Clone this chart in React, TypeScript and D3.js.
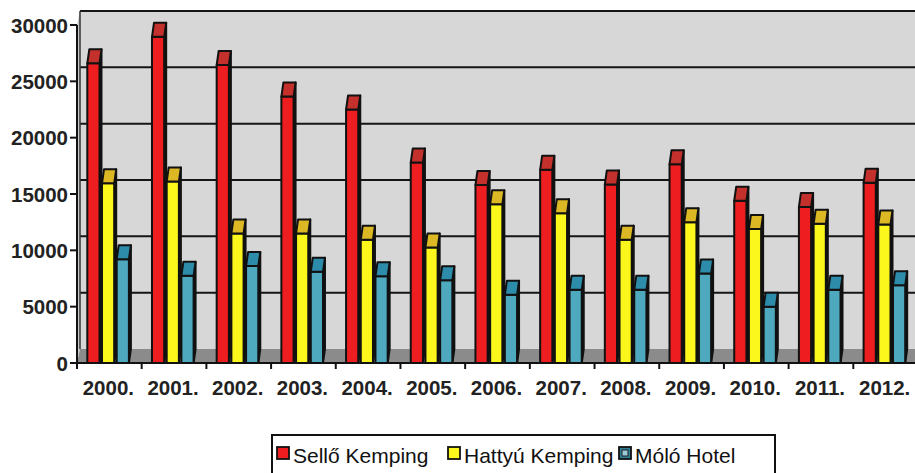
import React from "react";
import * as d3 from "d3";

const years = ["2000.", "2001.", "2002.", "2003.", "2004.", "2005.", "2006.", "2007.", "2008.", "2009.", "2010.", "2011.", "2012."];
const seriesNames = ["Sellő Kemping", "Hattyú Kemping", "Móló Hotel"];
const selloValues = [26600, 28950, 26450, 23650, 22500, 17800, 15800, 17150, 15850, 17650, 14400, 13850, 16000];
const hattyuValues = [15950, 16100, 11500, 11500, 10950, 10250, 14100, 13300, 10950, 12500, 11900, 12350, 12300];
const moloValues = [9200, 7750, 8600, 8100, 7700, 7350, 6050, 6500, 6500, 7950, 5000, 6500, 6900];
const yTicks = [0, 5000, 10000, 15000, 20000, 25000, 30000];

const frontColors = ["#ee1d1f", "#fbf71c", "#4ea9bf"];
const topColors = ["#c4302b", "#dcb824", "#2e8cab"];
const sideColors = ["#2a0c0b", "#2e2a08", "#0c242c"];

const W = 915;
const H = 473;
const DX = 3;
const DY = 14;
const BDX = 2;

export default function App() {
  const x0 = d3.scaleBand<string>().domain(years).range([77, 918]).padding(0);
  const x1 = d3
    .scaleBand<string>()
    .domain(seriesNames)
    .range([0, x0.bandwidth()])
    .paddingInner(0)
    .paddingOuter(0.7);
  const y = d3.scaleLinear().domain([0, 30000]).range([363, 25]);
  const allValues = [selloValues, hattyuValues, moloValues];

  const y0 = y(0);
  const xl = x0.range()[0];
  const xr = x0.range()[1];
  const fw = x1.bandwidth() - BDX - 0.5;

  const font = "'Liberation Sans', Arial, sans-serif";

  const bars: React.ReactNode[] = [];
  years.forEach((yr, i) => {
    seriesNames.forEach((s, j) => {
      const v = allValues[j][i];
      const x = (x0(yr) as number) + (x1(s) as number);
      const yt = y(v);
      const front = `M${x},${y0}L${x},${yt}L${x + fw},${yt}L${x + fw},${y0}Z`;
      const top = `M${x},${yt}L${x + BDX},${yt - DY}L${x + fw + BDX},${yt - DY}L${x + fw},${yt}Z`;
      const side = `M${x + fw},${y0}L${x + fw},${yt}L${x + fw + BDX},${yt - DY}L${x + fw + BDX},${y0 - DY}Z`;
      bars.push(
        <g key={`${i}-${j}`}>
          <path d={side} fill={sideColors[j]} stroke="#111" strokeWidth={2} strokeLinejoin="round" />
          <path d={front} fill={frontColors[j]} stroke="#111" strokeWidth={2} strokeLinejoin="round" />
          <path d={top} fill={topColors[j]} stroke="#111" strokeWidth={2} strokeLinejoin="round" />
        </g>
      );
    });
  });

  const legendItems = [
    { x: 277, tx: 293 },
    { x: 448, tx: 464 },
    { x: 619, tx: 635 },
  ];

  return (
    <svg
      width={W}
      height={H}
      style={{ position: "fixed", left: 0, top: 0, background: "#fff" }}
      xmlns="http://www.w3.org/2000/svg"
    >
      {/* back wall */}
      <path
        d={`M${xl + DX},${y(30000) - DY}L${xr + DX},${y(30000) - DY}L${xr + DX},${y0 - DY}L${xl + DX},${y0 - DY}Z`}
        fill="#d7d7d7"
      />
      {/* side wall */}
      <path
        d={`M${xl},${y(30000)}L${xl + DX},${y(30000) - DY}L${xl + DX},${y0 - DY}L${xl},${y0}Z`}
        fill="#c9c9c9"
      />
      {/* gridlines on back wall */}
      {yTicks.filter((t) => t > 0).map((t) => (
        <line
          key={`g${t}`}
          x1={xl + DX}
          x2={xr + DX}
          y1={y(t) - DY}
          y2={y(t) - DY}
          stroke="#151515"
          strokeWidth={2}
        />
      ))}
      <line x1={xl + DX} x2={xl + DX} y1={y(30000) - DY} y2={y0 - DY} stroke="#333" strokeWidth={1.5} />
      {/* floor */}
      <path
        d={`M${xl},${y0}L${xl + DX},${y0 - DY}L${xr + DX},${y0 - DY}L${xr},${y0}Z`}
        fill="#8b8b8b"
      />
      {bars}
      {/* y axis */}
      <line x1={xl} x2={xl} y1={y(30000)} y2={y0} stroke="#111" strokeWidth={2} />
      {yTicks.map((t) => (
        <g key={`yt${t}`}>
          <line x1={xl - 7} x2={xl} y1={y(t)} y2={y(t)} stroke="#111" strokeWidth={2} />
          <text
            x={xl - 9}
            y={y(t)}
            textAnchor="end"
            dominantBaseline="central"
            fontFamily={font}
            fontWeight="bold"
            fontSize={20.5}
            fill="#222"
          >
            {t}
          </text>
        </g>
      ))}
      {/* x axis */}
      <line x1={xl} x2={xr} y1={y0} y2={y0} stroke="#111" strokeWidth={2} />
      {years.map((yr) => (
        <g key={`xt${yr}`}>
          <line
            x1={(x0(yr) as number) + x0.bandwidth()}
            x2={(x0(yr) as number) + x0.bandwidth()}
            y1={y0}
            y2={y0 + 6}
            stroke="#111"
            strokeWidth={2}
          />
          <text
            x={(x0(yr) as number) + x0.bandwidth() / 2 - 1}
            y={395}
            textAnchor="middle"
            fontFamily={font}
            fontWeight="bold"
            fontSize={20.5}
            fill="#222"
          >
            {yr}
          </text>
        </g>
      ))}
      <line x1={xl} x2={xl} y1={y0} y2={y0 + 6} stroke="#111" strokeWidth={2} />
      {/* legend */}
      <rect x={272} y={435} width={503} height={50} fill="#fff" stroke="#111" strokeWidth={2} />
      {seriesNames.map((s, j) => (
        <g key={`lg${j}`}>
          <rect
            x={legendItems[j].x}
            y={447}
            width={12}
            height={12}
            fill={j === 2 ? "#2e7f96" : frontColors[j]}
            stroke="#111"
            strokeWidth={1.8}
          />
          {j === 2 && (
            <rect x={legendItems[j].x + 3} y={450} width={6} height={6} fill="#9cc9d6" stroke="#222" strokeWidth={1} />
          )}
          <text
            x={legendItems[j].tx}
            y={463}
            fontFamily={font}
            fontSize={21}
            fill="#111"
          >
            {s}
          </text>
        </g>
      ))}
    </svg>
  );
}
